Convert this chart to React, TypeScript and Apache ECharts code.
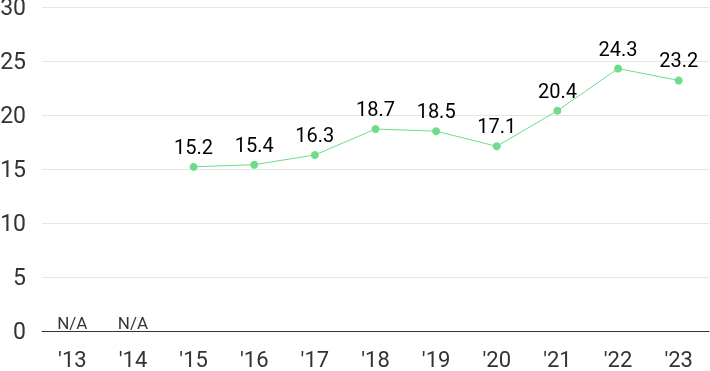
import React, { useEffect, useRef } from "react";
import * as echarts from "echarts";

const categories = ["'13", "'14", "'15", "'16", "'17", "'18", "'19", "'20", "'21", "'22", "'23"];
const values: (number | null)[] = [null, null, 15.2, 15.4, 16.3, 18.7, 18.5, 17.1, 20.4, 24.3, 23.2];
const naValues: (number | null)[] = [0, 0, null, null, null, null, null, null, null, null, null];
const yTicks = { min: 0, max: 30, interval: 5 };

export default function App() {
  const ref = useRef<HTMLDivElement>(null);
  useEffect(() => {
    if (!ref.current) return;
    const chart = echarts.init(ref.current, undefined, { renderer: "svg" });
    chart.setOption({
      animation: false,
      grid: { left: 42, right: 1, top: 7, bottom: 40, containLabel: false, outerBoundsMode: "none" },
      xAxis: {
        type: "category",
        data: categories,
        boundaryGap: true,
        axisLine: { lineStyle: { color: "#333", width: 1 } },
        axisTick: { show: false },
        axisLabel: { color: "#333", fontSize: 22, lineHeight: 20, fontFamily: "Roboto", margin: 18 },
      },
      yAxis: {
        type: "value",
        min: yTicks.min,
        max: yTicks.max,
        interval: yTicks.interval,
        axisLine: { show: false },
        axisTick: { show: false },
        splitLine: { lineStyle: { color: "#e6e6e6", width: 1 } },
        axisLabel: {
          color: "#333",
          fontSize: 23,
          lineHeight: 18,
          fontFamily: "Roboto",
          margin: 16,
          padding: [7, 0, 0, 0],
        },
      },
      series: [
        {
          type: "line",
          data: values,
          connectNulls: false,
          symbol: "circle",
          symbolSize: 8,
          itemStyle: { color: "#6fdc8c" },
          lineStyle: { color: "#6fdc8c", width: 1 },
          label: {
            show: true,
            position: "top",
            distance: 6,
            color: "#000",
            fontSize: 20,
            fontFamily: "Roboto",
          },
        },
        {
          type: "scatter",
          data: naValues,
          symbolSize: 0,
          itemStyle: { color: "transparent" },
          label: {
            show: true,
            position: "top",
            distance: 0,
            formatter: "N/A",
            color: "#000",
            fontSize: 17,
            fontFamily: "Roboto",
          },
        },
      ],
    });
    return () => chart.dispose();
  }, []);
  return <div ref={ref} style={{ position: "fixed", left: 0, top: 0, width: 710, height: 371 }} />;
}
